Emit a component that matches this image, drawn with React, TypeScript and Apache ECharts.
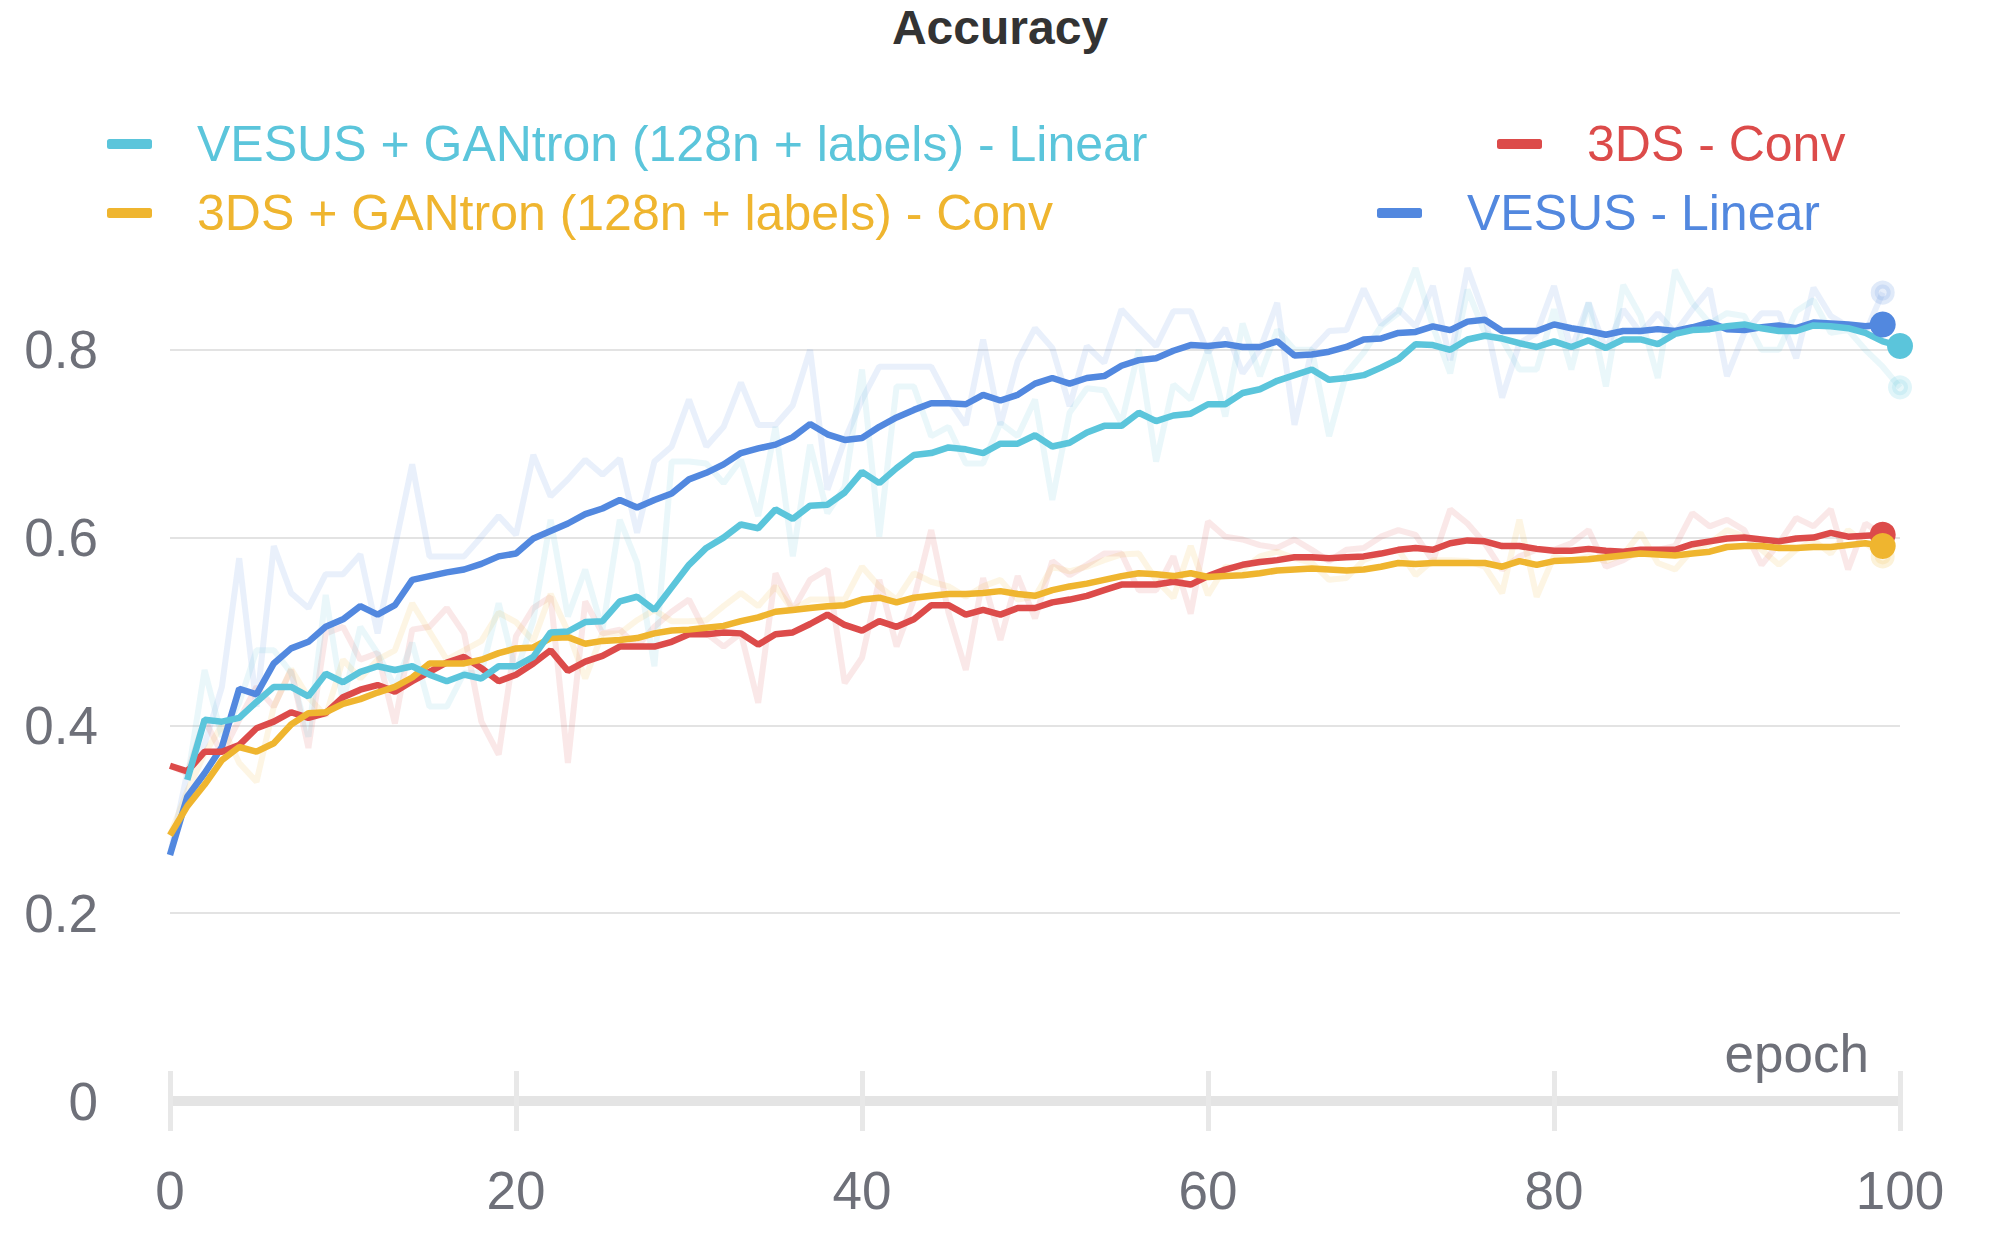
import React, { useEffect, useRef } from "react";
import * as echarts from "echarts";

const FONT = "'Liberation Sans', Arial, Helvetica, sans-serif";

const chartTitle = "Accuracy";
const xAxisName = "epoch";

const legendNames = [
  "VESUS + GANtron (128n + labels) - Linear",
  "3DS + GANtron (128n + labels) - Conv",
  "3DS - Conv",
  "VESUS - Linear",
];
const seriesColors = ["#5BC5DB", "#EFB52F", "#DC4B4A", "#5288DF"];
const startEpochs = [1, 0, 0, 0];

// VESUS + GANtron (128n + labels) - Linear : epochs 1..100
const cyanSmooth = [
  0.342, 0.406, 0.404, 0.408, 0.425, 0.441, 0.441, 0.431, 0.455, 0.446,
  0.457, 0.463, 0.459, 0.463, 0.454, 0.447, 0.454, 0.45, 0.463, 0.463,
  0.473, 0.499, 0.5, 0.51, 0.511, 0.532, 0.537, 0.523, 0.547, 0.571,
  0.589, 0.6, 0.614, 0.61, 0.63, 0.62, 0.634, 0.635, 0.648, 0.67,
  0.658, 0.674, 0.688, 0.69, 0.696, 0.694, 0.69, 0.7, 0.7, 0.709,
  0.697, 0.701, 0.712, 0.719, 0.719, 0.733, 0.724, 0.73, 0.732, 0.742,
  0.742, 0.754, 0.758, 0.767, 0.773, 0.779, 0.768, 0.77, 0.773, 0.781,
  0.79, 0.806, 0.805, 0.8, 0.811, 0.815, 0.812, 0.807, 0.803, 0.809,
  0.803, 0.81, 0.802, 0.811, 0.811, 0.806, 0.817, 0.821, 0.822, 0.825,
  0.827, 0.823, 0.82, 0.82, 0.826, 0.825, 0.823, 0.818, 0.809, 0.804,
];
const cyanRaw = [
  0.342, 0.459, 0.388, 0.424, 0.48, 0.48, 0.456, 0.388, 0.539, 0.424,
  0.505, 0.477, 0.441, 0.488, 0.42, 0.42, 0.456, 0.456, 0.53, 0.456,
  0.512, 0.619, 0.516, 0.566, 0.502, 0.619, 0.573, 0.463, 0.681, 0.681,
  0.679, 0.658, 0.683, 0.623, 0.718, 0.58, 0.699, 0.626, 0.654, 0.779,
  0.601, 0.761, 0.761, 0.708, 0.718, 0.679, 0.679, 0.722, 0.708, 0.747,
  0.64, 0.733, 0.759, 0.757, 0.722, 0.8, 0.681, 0.763, 0.747, 0.8,
  0.729, 0.828, 0.772, 0.821, 0.8, 0.8, 0.708, 0.775, 0.797, 0.825,
  0.839, 0.887, 0.825, 0.775, 0.864, 0.818, 0.811, 0.779, 0.779, 0.843,
  0.779, 0.85, 0.761, 0.869, 0.836, 0.77, 0.885, 0.85, 0.828, 0.839,
  0.836, 0.8, 0.8, 0.841, 0.853, 0.818, 0.821, 0.8, 0.782, 0.76,
];

// 3DS + GANtron (128n + labels) - Conv : epochs 0..99
const yellowSmooth = [
  0.283, 0.314, 0.337, 0.363, 0.377, 0.372, 0.381, 0.401, 0.413, 0.414,
  0.423, 0.428, 0.435, 0.441, 0.451, 0.466, 0.466, 0.466, 0.47, 0.477,
  0.482, 0.483, 0.493, 0.494, 0.487, 0.49, 0.491, 0.493, 0.498, 0.501,
  0.502, 0.504, 0.506, 0.511, 0.515, 0.521, 0.523, 0.525, 0.527, 0.528,
  0.534, 0.536, 0.531, 0.536, 0.538, 0.54, 0.54, 0.541, 0.543, 0.54,
  0.538, 0.544, 0.548, 0.551, 0.555, 0.559, 0.562, 0.561, 0.559, 0.562,
  0.558, 0.559, 0.56, 0.562, 0.565, 0.566, 0.567, 0.566, 0.565, 0.566,
  0.569, 0.573, 0.572, 0.573, 0.573, 0.573, 0.573, 0.569, 0.575, 0.571,
  0.575, 0.576, 0.577, 0.579, 0.581, 0.583, 0.582, 0.581, 0.583, 0.585,
  0.59, 0.591, 0.591, 0.589, 0.589, 0.59, 0.59, 0.592, 0.594, 0.591,
];
const yellowRaw = [
  0.283, 0.33, 0.37, 0.4, 0.36, 0.34, 0.42, 0.46, 0.43, 0.41,
  0.47, 0.45, 0.47, 0.48, 0.53, 0.5, 0.47, 0.48, 0.49, 0.52,
  0.51, 0.49, 0.54, 0.5, 0.45, 0.498, 0.498, 0.512, 0.523, 0.511,
  0.511, 0.512, 0.527, 0.541, 0.527, 0.548, 0.523, 0.534, 0.534, 0.534,
  0.569, 0.548, 0.534, 0.562, 0.553, 0.548, 0.537, 0.548, 0.555, 0.534,
  0.537, 0.569, 0.564, 0.569, 0.576, 0.582, 0.583, 0.555, 0.536, 0.591,
  0.539, 0.569, 0.566, 0.58, 0.585, 0.578, 0.573, 0.555, 0.557, 0.576,
  0.583, 0.587, 0.56, 0.576, 0.576, 0.575, 0.569, 0.541, 0.619, 0.537,
  0.58, 0.575, 0.58, 0.575, 0.582, 0.605, 0.573, 0.566, 0.587, 0.594,
  0.608, 0.601, 0.587, 0.571, 0.587, 0.597, 0.583, 0.608, 0.594, 0.58,
];

// 3DS - Conv : epochs 0..99
const redSmooth = [
  0.357, 0.351, 0.372, 0.372, 0.379, 0.397, 0.404, 0.414, 0.408, 0.413,
  0.43, 0.438, 0.443, 0.436, 0.447, 0.457, 0.467, 0.473, 0.461, 0.447,
  0.454, 0.466, 0.48, 0.458, 0.468, 0.474, 0.484, 0.484, 0.484, 0.489,
  0.497, 0.497, 0.499, 0.498, 0.486, 0.497, 0.499, 0.508, 0.518, 0.507,
  0.501, 0.511, 0.505, 0.513, 0.528, 0.528, 0.518, 0.523, 0.518, 0.525,
  0.525, 0.531, 0.534, 0.538, 0.544, 0.55, 0.55, 0.55, 0.553, 0.55,
  0.559, 0.566, 0.571, 0.574, 0.576, 0.579, 0.579, 0.578, 0.579, 0.58,
  0.583, 0.587, 0.589, 0.587, 0.594, 0.597, 0.596, 0.591, 0.591, 0.588,
  0.586, 0.586, 0.588, 0.586, 0.585, 0.587, 0.587, 0.587, 0.593, 0.596,
  0.599, 0.6, 0.598, 0.596, 0.599, 0.6, 0.605, 0.601, 0.602, 0.603,
];
const redRaw = [
  0.357, 0.349, 0.406, 0.37, 0.406, 0.441, 0.42, 0.459, 0.376, 0.498,
  0.505, 0.47, 0.477, 0.402, 0.502, 0.505, 0.525, 0.498, 0.404, 0.369,
  0.495, 0.525, 0.537, 0.36, 0.532, 0.498, 0.502, 0.484, 0.505, 0.521,
  0.534, 0.498, 0.484, 0.498, 0.424, 0.562, 0.523, 0.555, 0.566, 0.445,
  0.472, 0.555, 0.484, 0.534, 0.608, 0.52, 0.459, 0.557, 0.491, 0.559,
  0.514, 0.575, 0.56, 0.571, 0.583, 0.583, 0.544, 0.544, 0.58, 0.519,
  0.617, 0.601, 0.598, 0.592, 0.589, 0.598, 0.587, 0.575, 0.587, 0.589,
  0.601, 0.608, 0.603, 0.575, 0.63, 0.615, 0.594, 0.566, 0.58, 0.587,
  0.587, 0.594, 0.608, 0.569, 0.576, 0.587, 0.587, 0.591, 0.626, 0.612,
  0.619, 0.608, 0.571, 0.594, 0.621, 0.612, 0.63, 0.566, 0.615, 0.603,
];

// VESUS - Linear : epochs 0..99
const blueSmooth = [
  0.262, 0.324, 0.349, 0.377, 0.439, 0.433, 0.466, 0.482, 0.489, 0.505,
  0.513, 0.527, 0.518, 0.528, 0.555, 0.559, 0.563, 0.566, 0.572, 0.58,
  0.583, 0.599, 0.607, 0.615, 0.625, 0.631, 0.64, 0.632, 0.64, 0.647,
  0.662, 0.669, 0.678, 0.69, 0.695, 0.699, 0.707, 0.721, 0.71, 0.704,
  0.706, 0.718, 0.728, 0.736, 0.743, 0.743, 0.742, 0.752, 0.746, 0.752,
  0.764, 0.77, 0.764, 0.77, 0.772, 0.783, 0.789, 0.791, 0.799, 0.805,
  0.804, 0.806, 0.803, 0.803, 0.809, 0.794, 0.795, 0.798, 0.803, 0.811,
  0.812, 0.818, 0.819, 0.825, 0.821, 0.83, 0.832, 0.82, 0.82, 0.82,
  0.827, 0.823, 0.82, 0.816, 0.82, 0.82, 0.822, 0.82, 0.824, 0.829,
  0.822, 0.821, 0.824, 0.826, 0.823, 0.829, 0.828, 0.827, 0.825, 0.827,
];
const blueRaw = [
  0.262, 0.35, 0.38, 0.441, 0.578, 0.42, 0.591, 0.541, 0.525, 0.561,
  0.561, 0.582, 0.498, 0.59, 0.678, 0.58, 0.58, 0.58, 0.601, 0.623,
  0.603, 0.688, 0.644, 0.662, 0.683, 0.667, 0.684, 0.605, 0.681, 0.697,
  0.747, 0.697, 0.718, 0.765, 0.72, 0.72, 0.741, 0.8, 0.651, 0.704,
  0.747, 0.782, 0.782, 0.782, 0.782, 0.747, 0.72, 0.811, 0.72, 0.788,
  0.823, 0.802, 0.74, 0.804, 0.786, 0.843, 0.823, 0.804, 0.841, 0.841,
  0.797, 0.823, 0.775, 0.8, 0.85, 0.72, 0.8, 0.82, 0.821, 0.865,
  0.827, 0.843, 0.825, 0.868, 0.789, 0.887, 0.836, 0.749, 0.807, 0.818,
  0.868, 0.8, 0.85, 0.8, 0.843, 0.818, 0.839, 0.818, 0.843, 0.865,
  0.772, 0.818, 0.839, 0.839, 0.791, 0.866, 0.836, 0.825, 0.818, 0.861,
];

const smoothData = [cyanSmooth, yellowSmooth, redSmooth, blueSmooth];
const rawData = [cyanRaw, yellowRaw, redRaw, blueRaw];

function rgba(hex: string, a: number) {
  const n = parseInt(hex.slice(1), 16);
  return `rgba(${(n >> 16) & 255},${(n >> 8) & 255},${n & 255},${a})`;
}

function toPoints(vals: number[], start: number, lastItem: any) {
  return vals.map((v, i) =>
    i === vals.length - 1 ? { value: [start + i, v], ...lastItem } : [start + i, v]
  );
}

const legendPos = [
  { left: 107, top: 119 },
  { left: 107, top: 188 },
  { left: 1497, top: 119 },
  { left: 1377, top: 188 },
];

export default function App() {
  const ref = useRef<HTMLDivElement>(null);
  useEffect(() => {
    document.body.style.margin = "0";
    if (!ref.current) return;
    const chart = echarts.init(ref.current, undefined, { renderer: "svg" });
    const drawOrder = [3, 2, 1, 0];
    const rawSeries = drawOrder.map((k) => ({
      name: legendNames[k] + " (raw)",
      type: "line",
      data: toPoints(rawData[k], startEpochs[k], {
        symbol: "circle",
        symbolSize: 16,
        itemStyle: { color: rgba(seriesColors[k], 0.14), borderColor: rgba(seriesColors[k], 0.18), borderWidth: 8 },
      }),
      symbol: "none",
      showSymbol: true,
      color: seriesColors[k],
      lineStyle: { width: 6, color: seriesColors[k], opacity: 0.13 },
      silent: true,
      z: 2,
    }));
    const smoothSeries = drawOrder.map((k) => ({
      name: legendNames[k],
      type: "line",
      data: toPoints(smoothData[k], startEpochs[k], {
        symbol: "circle",
        symbolSize: 26,
        itemStyle: { color: seriesColors[k] },
      }),
      symbol: "none",
      showSymbol: true,
      color: seriesColors[k],
      itemStyle: { color: seriesColors[k] },
      lineStyle: { width: 6.5, color: seriesColors[k] },
      z: 3,
    }));
    const legends = legendNames.map((nm, k) => ({
      data: [nm],
      left: legendPos[k].left,
      top: legendPos[k].top,
      padding: 0,
      icon: "roundRect",
      itemWidth: 45,
      itemHeight: 10,
      selectedMode: false,
      textStyle: {
        fontSize: 50,
        fontFamily: FONT,
        color: seriesColors[k],
        padding: [0, 0, 13, 40],
      },
    }));
    chart.setOption({
      animation: false,
      backgroundColor: "#ffffff",
      title: {
        text: chartTitle,
        left: "center",
        top: 3,
        padding: 0,
        textStyle: { fontSize: 48, fontWeight: "bold", color: "#333333", fontFamily: FONT },
      },
      legend: legends,
      grid: { left: 170, right: 100, top: 162, bottom: 149, containLabel: false },
      xAxis: [
        {
          type: "value",
          position: "bottom",
          min: 0,
          max: 100,
          interval: 20,
          axisLine: { show: true, onZero: false, lineStyle: { color: "#E4E4E4", width: 10, cap: "butt" } },
          axisTick: { show: true, length: 30, lineStyle: { color: "#E8E8E8", width: 5 } },
          axisLabel: { fontSize: 53, color: "#6E7079", margin: 63, fontFamily: FONT },
          splitLine: { show: false },
        },
        {
          type: "value",
          position: "bottom",
          min: 0,
          max: 100,
          interval: 20,
          axisLine: { show: false },
          axisTick: { show: true, inside: true, length: 30, lineStyle: { color: "#E8E8E8", width: 5 } },
          axisLabel: { show: false },
          splitLine: { show: false },
        },
      ],
      yAxis: {
        type: "value",
        min: 0,
        max: 1,
        interval: 0.2,
        axisLine: { show: false },
        axisTick: { show: false },
        axisLabel: { fontSize: 53, color: "#6E7079", margin: 72, fontFamily: FONT, showMaxLabel: false },
        splitLine: { show: true, showMaxLine: false, showMinLine: false, lineStyle: { color: "#E3E3E3", width: 2 } },
      },
      graphic: [
        {
          type: "text",
          x: 1869,
          y: 1053,
          silent: true,
          style: {
            text: xAxisName,
            fontSize: 53,
            fontFamily: FONT,
            fill: "#6E7079",
            align: "right",
            verticalAlign: "middle",
          },
        },
      ],
      series: [...rawSeries, ...smoothSeries],
    });
    return () => chart.dispose();
  }, []);
  return <div ref={ref} style={{ width: 2000, height: 1250 }} />;
}
